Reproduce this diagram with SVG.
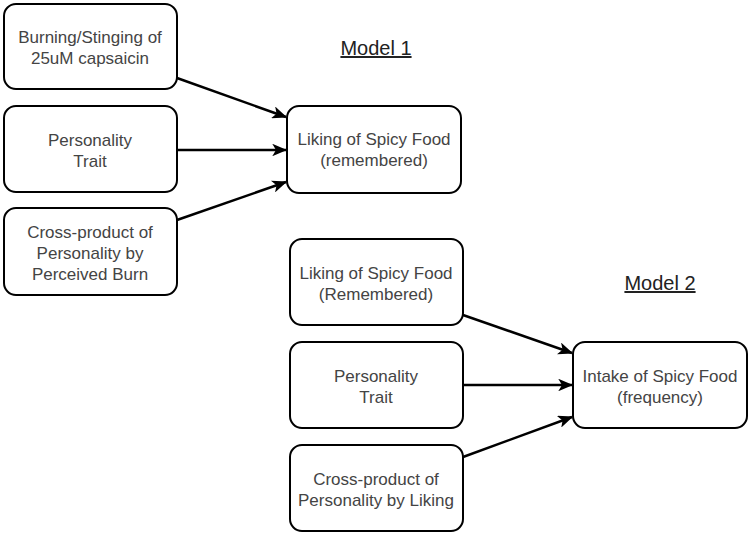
<svg xmlns="http://www.w3.org/2000/svg" width="750" height="535" viewBox="0 0 750 535">
<style>
.box{fill:#fff;stroke:#000;stroke-width:2}
.t{font-family:"Liberation Sans",Arial,sans-serif;font-size:17px;fill:#444;text-anchor:middle}
.title{font-family:"Liberation Sans",Arial,sans-serif;font-size:20px;fill:#222;text-anchor:middle;text-decoration:underline}
.c{stroke:#000;stroke-width:2.5;fill:none;marker-end:url(#arr)}
</style>
<defs>
<marker id="arr" viewBox="0 0 12 10" refX="11" refY="5" markerWidth="6" markerHeight="5" markerUnits="strokeWidth" orient="auto">
<path d="M0,0 L12,5 L0,10 L3,5 Z" fill="#000"/>
</marker>
</defs>
<rect width="750" height="535" fill="#fff"/>
<text class="title" x="376" y="55">Model 1</text>
<text class="title" x="660" y="290">Model 2</text>
<g id="n1"><rect class="box" x="4" y="4" width="173" height="85" rx="12"/><text class="t" x="90" y="43">Burning/Stinging of</text><text class="t" x="90" y="64">25uM capsaicin</text></g>
<g id="n2"><rect class="box" x="4" y="106" width="173" height="86" rx="12"/><text class="t" x="90" y="146">Personality</text><text class="t" x="90" y="167">Trait</text></g>
<g id="n3"><rect class="box" x="4" y="208" width="173" height="87" rx="12"/><text class="t" x="90" y="238">Cross-product of</text><text class="t" x="90" y="259">Personality by</text><text class="t" x="90" y="280">Perceived Burn</text></g>
<g id="n4"><rect class="box" x="287" y="106" width="174" height="87" rx="12"/><text class="t" x="374" y="145">Liking of Spicy Food</text><text class="t" x="374" y="166">(remembered)</text></g>
<g id="n5"><rect class="box" x="290" y="239" width="173" height="86" rx="12"/><text class="t" x="376" y="279">Liking of Spicy Food</text><text class="t" x="376" y="300">(Remembered)</text></g>
<g id="n6"><rect class="box" x="290" y="342" width="173" height="86" rx="12"/><text class="t" x="376" y="382">Personality</text><text class="t" x="376" y="403">Trait</text></g>
<g id="n7"><rect class="box" x="290" y="445" width="173" height="86" rx="12"/><text class="t" x="376" y="485">Cross-product of</text><text class="t" x="376" y="506">Personality by Liking</text></g>
<g id="n8"><rect class="box" x="573" y="342" width="174" height="86" rx="12"/><text class="t" x="660" y="382">Intake of Spicy Food</text><text class="t" x="660" y="403">(frequency)</text></g>
<g id="connectors">
<line class="c" x1="177" y1="78" x2="286" y2="117"/>
<line class="c" x1="177" y1="150" x2="286" y2="150"/>
<line class="c" x1="177" y1="220" x2="286" y2="182"/>
<line class="c" x1="463" y1="315" x2="572" y2="353"/>
<line class="c" x1="463" y1="385" x2="572" y2="385"/>
<line class="c" x1="463" y1="457" x2="572" y2="417"/>
</g>
</svg>
